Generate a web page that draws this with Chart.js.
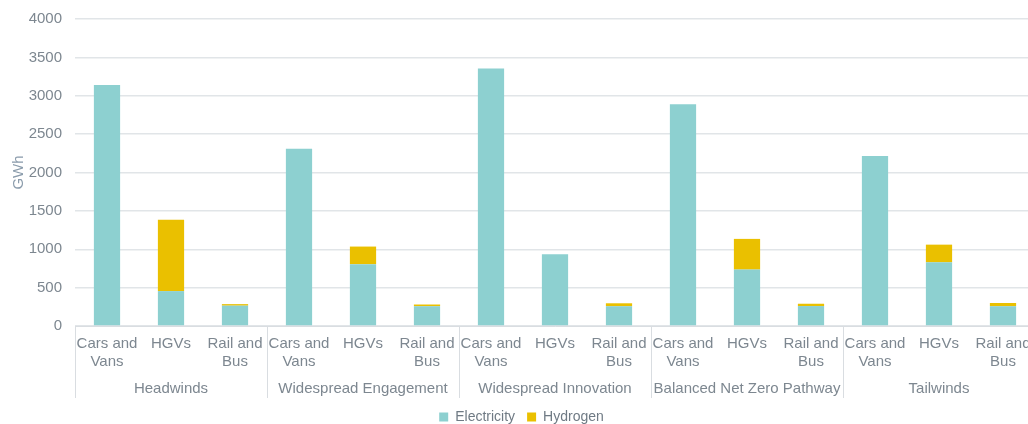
<!DOCTYPE html>
<html>
<head>
<meta charset="utf-8">
<script src="https://cdn.jsdelivr.net/npm/chart.js@4/dist/chart.umd.min.js"></script>
<style>
  html, body { margin: 0; padding: 0; background: #fff; overflow: hidden; }
  #wrap { position: relative; top: -3px; width: 1040px; height: 437px; }
</style>
</head>
<body>
<div id="wrap"><canvas id="chart"></canvas></div>
<script>
// datos (GWh)
const escenarios = ['Headwinds', 'Widespread Engagement', 'Widespread Innovation', 'Balanced Net Zero Pathway', 'Tailwinds'];
const modos = [['Cars and', 'Vans'], ['HGVs'], ['Rail and', 'Bus']];
const etiquetas = escenarios.flatMap(() => modos);

const electricidad = [
    3140, 455, 265,
    2310, 805, 258,
    3355, 935, 258,
    2890, 735, 260,
    2215, 830, 258
];
const hidrogeno = [
    0, 930, 20,
    0, 230, 22,
    0, 0, 38,
    0, 400, 30,
    0, 230, 42
];
const ticksY = [0, 500, 1000, 1500, 2000, 2500, 3000, 3500, 4000];

const gris = '#7d8790';
const fuente = { family: 'Liberation Sans, Arial, sans-serif', size: 15 };

// lineas separadoras entre escenarios
const separadores = {
    id: 'separadores',
    afterDraw(chart) {
        const x = chart.scales.x;
        const x2 = chart.scales.x2;
        const ctx = chart.ctx;
        const ancho = x2.width / escenarios.length;
        ctx.save();
        ctx.strokeStyle = '#d9dde1';
        ctx.lineWidth = 1;
        for (let i = 0; i < escenarios.length; i++) {
            const px = Math.round(x2.left + i * ancho) + 0.5;
            ctx.beginPath();
            ctx.moveTo(px, x.top);
            ctx.lineTo(px, x2.bottom);
            ctx.stroke();
        }
        ctx.restore();
    }
};

new Chart(document.getElementById('chart'), {
    type: 'bar',
    data: {
        labels: etiquetas,
        datasets: [
            { label: 'Electricity', data: electricidad, backgroundColor: '#8dd0d0' },
            { label: 'Hydrogen', data: hidrogeno, backgroundColor: '#eac000' }
        ]
    },
    options: {
        responsive: true,
        maintainAspectRatio: false,
        animation: false,
        categoryPercentage: 1,
        barPercentage: 0.41,
        layout: { padding: { left: 8, right: 5, top: 5, bottom: 0 } },
        plugins: {
            legend: {
                position: 'bottom',
                labels: {
                    boxWidth: 9,
                    boxHeight: 9,
                    padding: 12,
                    color: '#6f7a84',
                    font: { family: fuente.family, size: 14 }
                }
            },
            tooltip: { enabled: false }
        },
        scales: {
            x: {
                stacked: true,
                offset: true,
                afterFit: s => { s.height = 45; },
                grid: { display: false, drawTicks: false },
                border: { display: true, color: '#d9dde1' },
                ticks: { color: gris, font: fuente, padding: 9, maxRotation: 0, autoSkip: false }
            },
            x2: {
                type: 'category',
                position: 'bottom',
                labels: escenarios,
                offset: true,
                afterFit: s => { s.height = 27; },
                grid: { display: false, drawTicks: false },
                border: { display: false },
                ticks: { color: gris, font: fuente, padding: 9, maxRotation: 0, autoSkip: false }
            },
            y: {
                stacked: true,
                min: 0,
                max: 4000,
                afterBuildTicks: s => { s.ticks = ticksY.map(v => ({ value: v })); },
                afterFit: s => { s.width = 67; },
                grid: { color: '#e1e5e8', lineWidth: 1.5, drawTicks: false },
                border: { display: false },
                ticks: { color: gris, font: fuente, padding: 13, callback: v => String(v) },
                title: { display: true, text: 'GWh', color: '#8a9bab', font: fuente, padding: 2 }
            }
        }
    },
    plugins: [separadores]
});
</script>
</body>
</html>
